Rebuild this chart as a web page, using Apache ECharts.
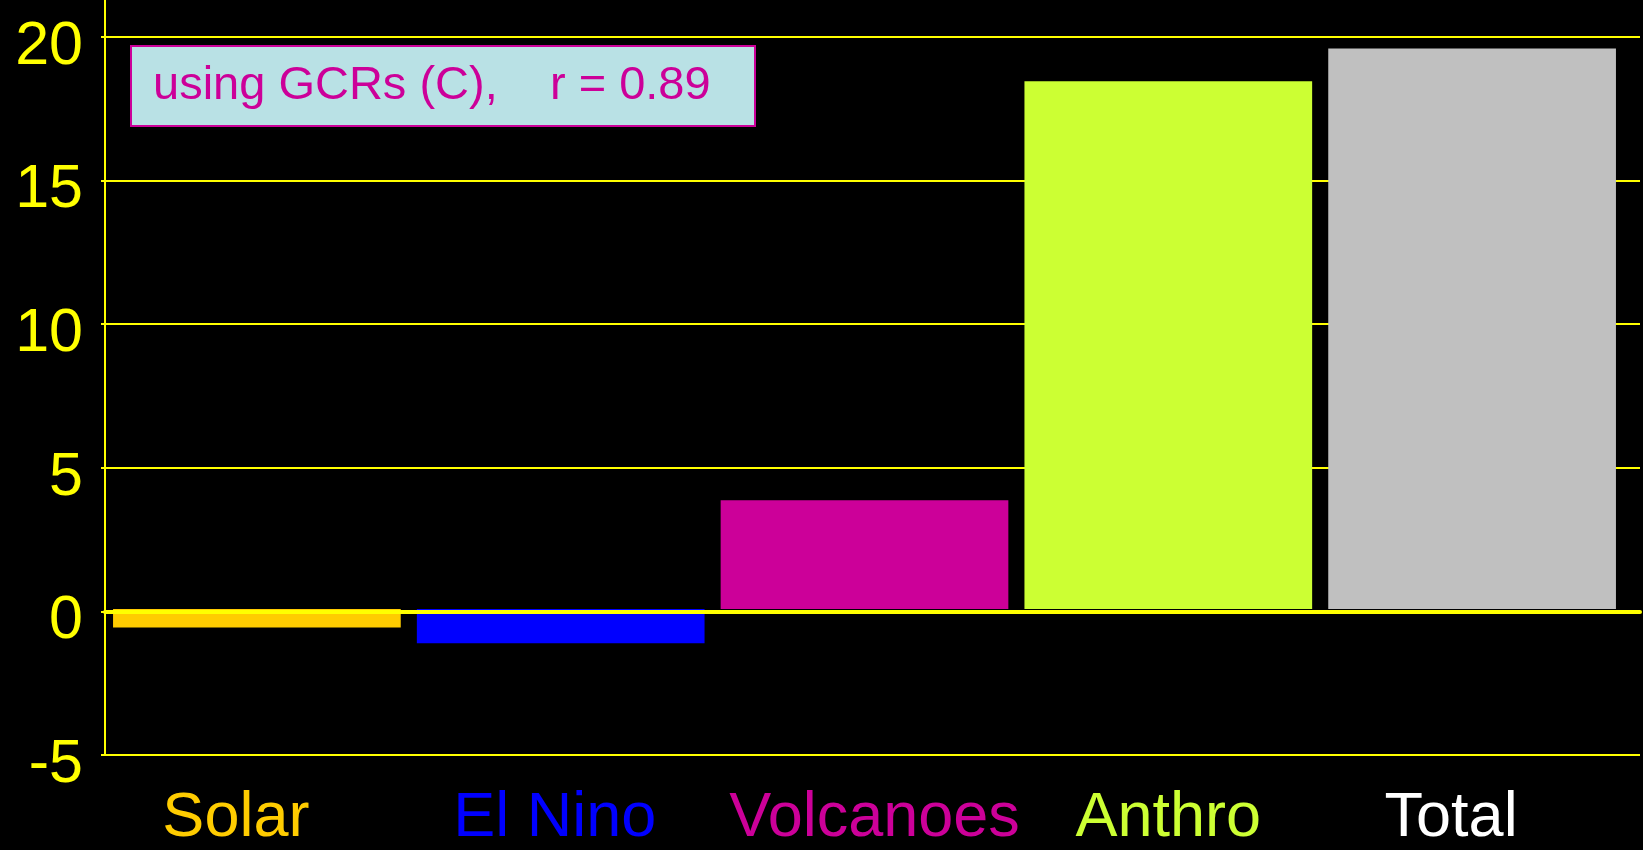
<!DOCTYPE html>
<html>
<head>
<meta charset="utf-8">
<script src="https://cdn.jsdelivr.net/npm/echarts@6/dist/echarts.min.js"></script>
<style>
  html, body { margin: 0; padding: 0; background: #000; }
  #main { width: 1643px; height: 850px; }
</style>
</head>
<body>
<div id="main"></div>
<script>
// categories and values
var categories = ['Solar', 'El Nino', 'Volcanoes', 'Anthro', 'Total'];
var values = [-0.65, -1.2, 3.8, 18.45, 19.6];
var barColors = ['#FFCC00', '#0000FF', '#CC0099', '#CCFF33', '#C0C0C0'];
var labelColors = ['#FFCC00', '#0000FF', '#CC0099', '#CCFF33', '#FFFFFF'];
var yTicks = [-5, 0, 5, 10, 15, 20];

var font = 'Liberation Sans, Arial, sans-serif';

// labels in the original sit a bit off the bar centres
var labelPad = [[0, 42, 0, 0], [0, 12, 0, 0], [0, 0, 0, 20], [0, 0, 0, 0], [0, 42, 0, 0]];
var rich = {};
categories.forEach(function (c, i) {
  rich['c' + i] = { color: labelColors[i], fontSize: 63, fontFamily: font, padding: labelPad[i] };
});

var myChart = echarts.init(document.getElementById('main'));

var yMin = yTicks[0];
var yMax = yTicks[yTicks.length - 1];

var option = {
  backgroundColor: '#000000',
  animation: false,
  grid: [
    // grid for the value axis, grid lines and zero line
    { left: 105, right: 3, top: 37, bottom: 95 },
    // grid holding the bars, a bit narrower on the right
    { left: 105, right: 19, top: 37, bottom: 95 }
  ],
  xAxis: [
    {
      gridIndex: 0,
      type: 'category',
      data: categories,
      z: 10,
      axisLine: { show: true, onZero: true, lineStyle: { color: '#FFFF00', width: 4 } },
      axisTick: { show: false },
      axisLabel: { show: false }
    },
    {
      gridIndex: 1,
      type: 'category',
      data: categories,
      axisLine: { show: false, onZero: false },
      axisTick: { show: false },
      axisLabel: {
        margin: 35,
        interval: 0,
        formatter: function (v) {
          var i = categories.indexOf(v);
          return '{c' + i + '|' + v + '}';
        },
        rich: rich
      }
    }
  ],
  yAxis: [
    {
      gridIndex: 0,
      type: 'value',
      min: yMin,
      max: yMax,
      interval: 5,
      axisLine: { show: true, lineStyle: { color: '#FFFF00', width: 2 } },
      axisTick: { show: true, length: 4, lineStyle: { color: '#FFFF00', width: 2 } },
      splitLine: { show: true, lineStyle: { color: '#FFFF00', width: 2 } },
      axisLabel: {
        margin: 22,
        formatter: function (v) { return '{v|' + v + '}'; },
        rich: {
          v: { color: '#FFFF00', fontSize: 61, fontFamily: font, padding: [20, 0, 0, 0] }
        }
      }
    },
    {
      gridIndex: 1,
      type: 'value',
      min: yMin,
      max: yMax,
      interval: 5,
      show: false,
      splitLine: { show: false }
    }
  ],
  series: [{
    type: 'bar',
    xAxisIndex: 1,
    yAxisIndex: 1,
    barCategoryGap: '5.3%',
    data: values.map(function (v, i) {
      return { value: v, itemStyle: { color: barColors[i] } };
    })
  }],
  graphic: [
    {
      type: 'line',
      shape: { x1: 105, y1: 0, x2: 105, y2: 37 },
      style: { stroke: '#FFFF00', lineWidth: 2 }
    },
    {
      type: 'group',
      left: 130,
      top: 45,
      children: [
        {
          type: 'rect',
          shape: { x: 0, y: 0, width: 624, height: 80 },
          style: { fill: '#B9E1E5', stroke: '#CC0099', lineWidth: 2 }
        },
        {
          type: 'text',
          x: 22,
          y: 40,
          style: {
            text: 'using GCRs (C),    r = 0.89',
            fill: '#CC0099',
            font: '47px ' + font,
            verticalAlign: 'middle'
          }
        }
      ]
    }
  ]
};

myChart.setOption(option);
</script>
</body>
</html>
